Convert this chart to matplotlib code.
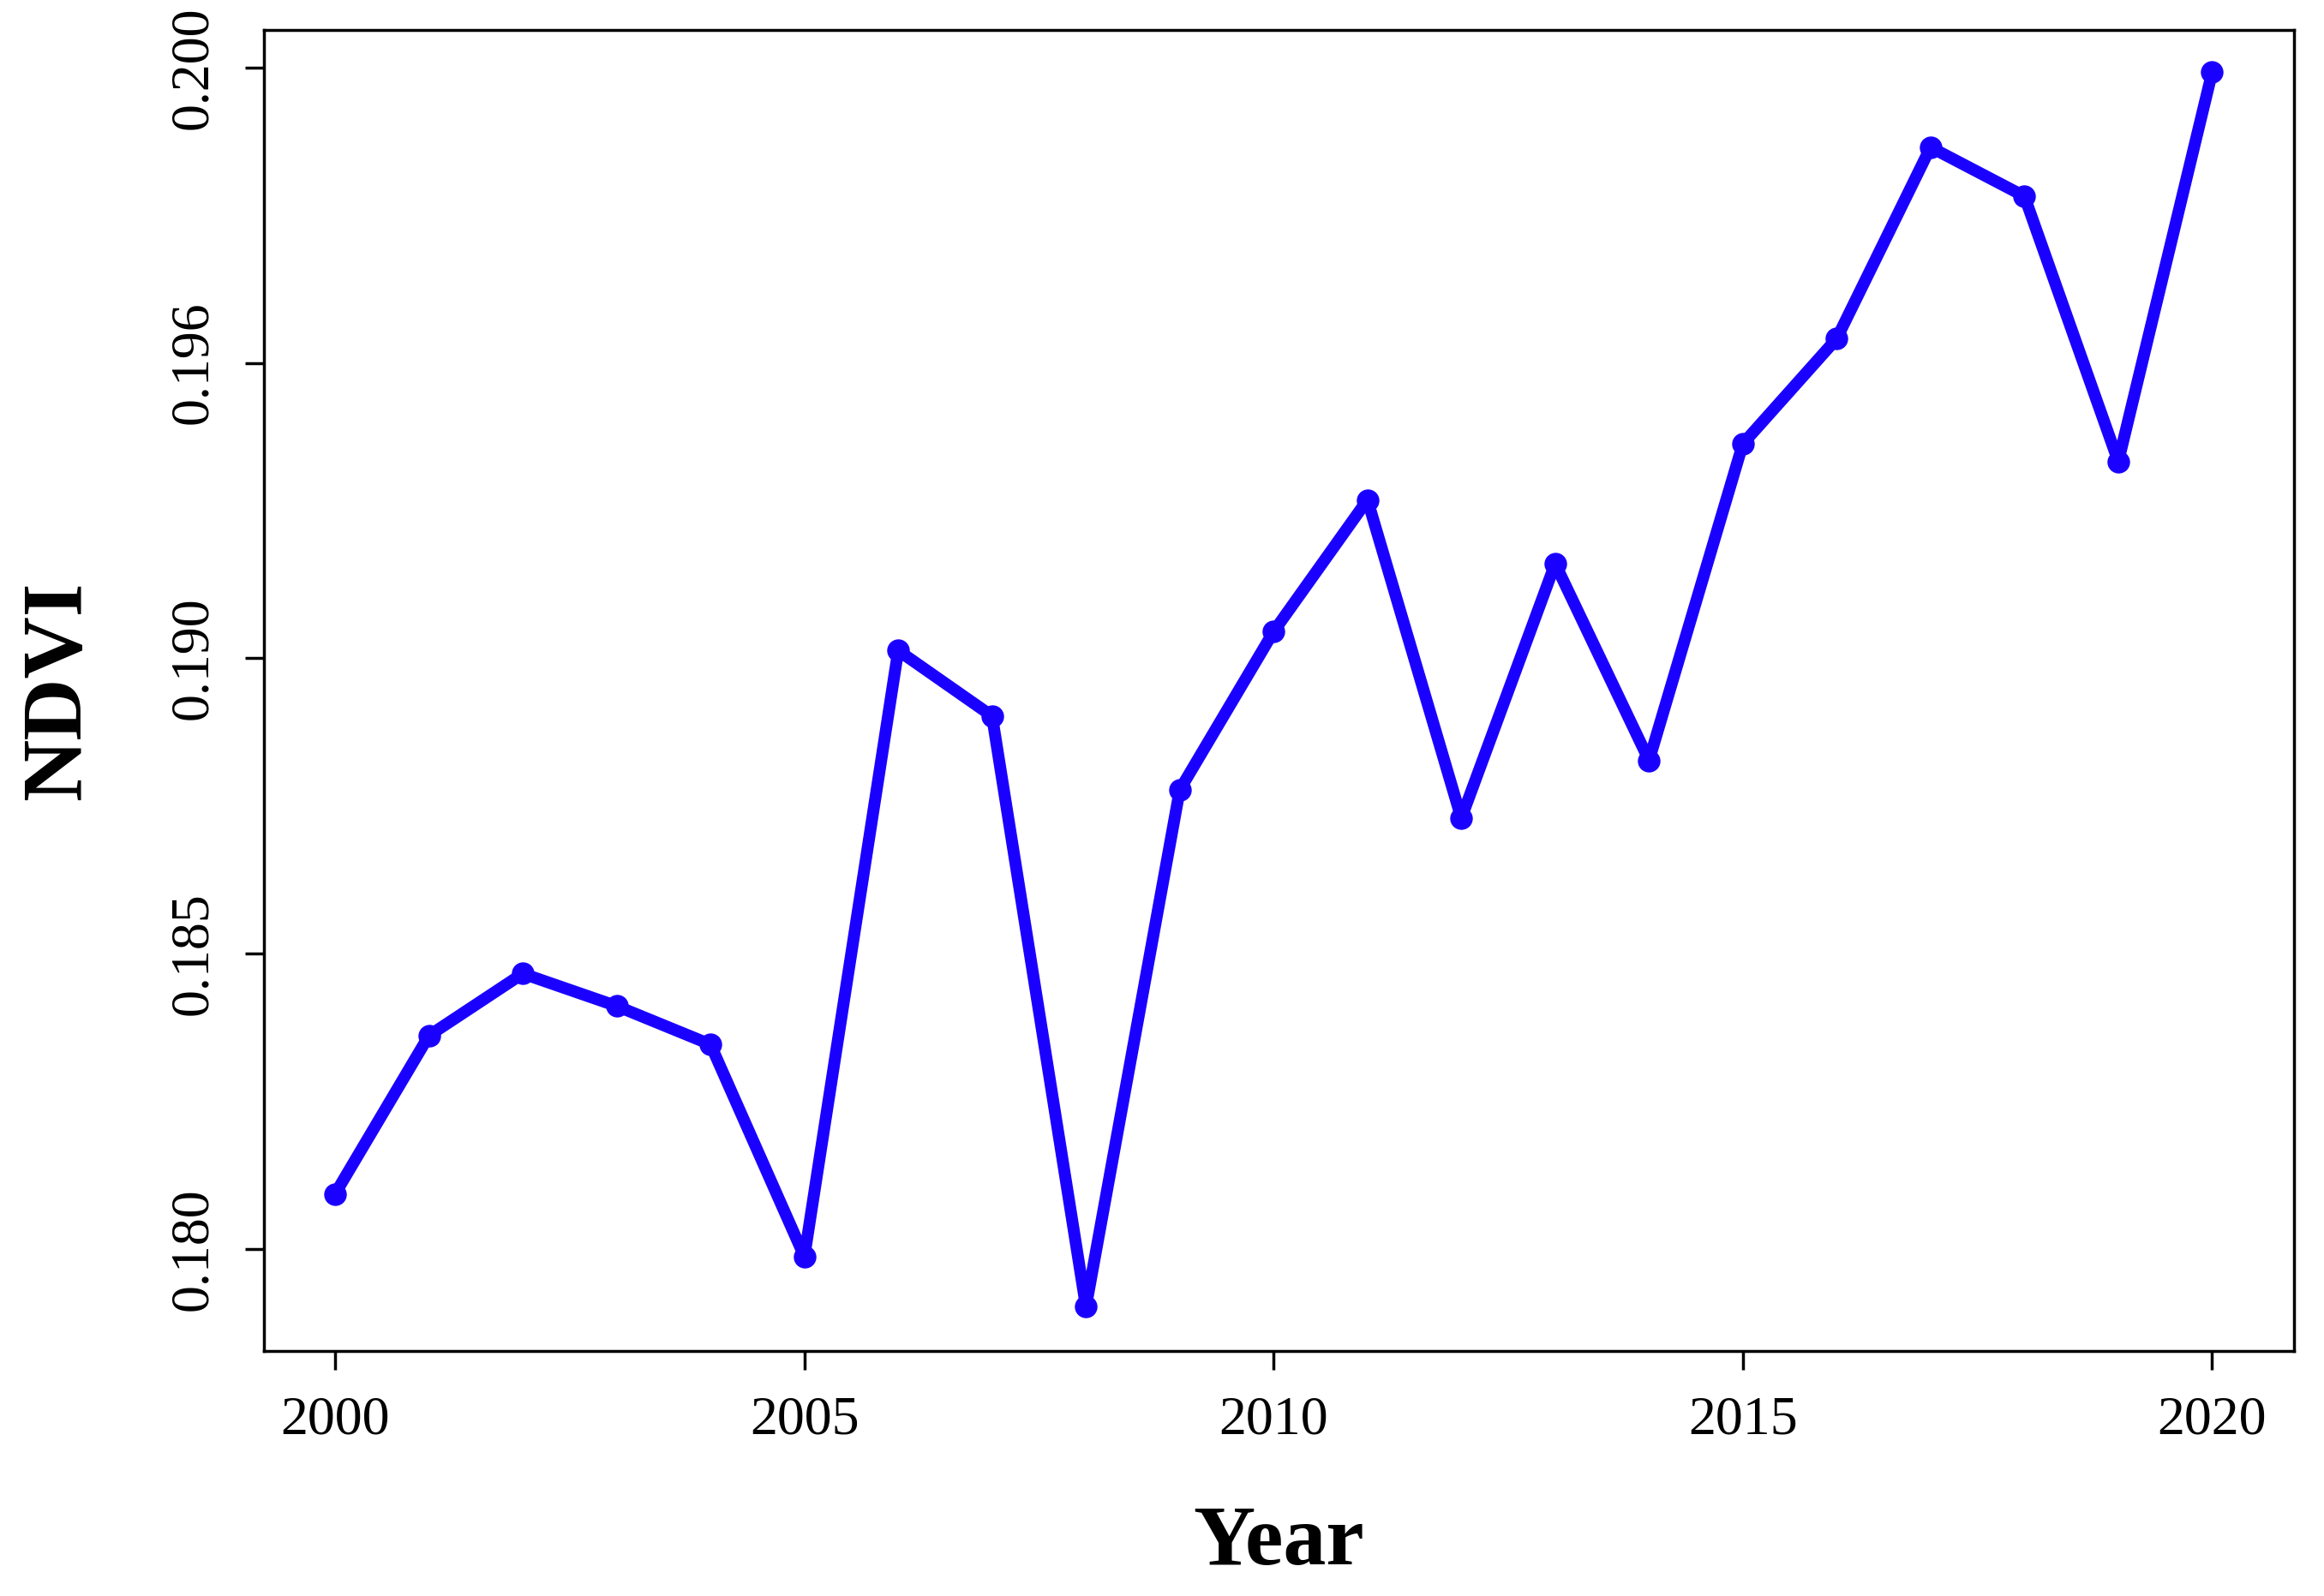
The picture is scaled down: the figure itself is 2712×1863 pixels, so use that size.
import matplotlib
matplotlib.use("Agg")
import matplotlib.pyplot as plt

years = list(range(2000, 2021))
ndvi = [0.18093, 0.18361, 0.18466, 0.18411, 0.18346, 0.17987, 0.19013, 0.18902,
        0.17902, 0.18777, 0.19045, 0.19268, 0.18729, 0.19160, 0.18827, 0.19363,
        0.19541, 0.19865, 0.19782, 0.19333, 0.19992]
yticks = [0.180, 0.185, 0.190, 0.195, 0.200]
yticklabels = ["0.180", "0.185", "0.190", "0.196", "0.200"]
xticks = [2000, 2005, 2010, 2015, 2020]

plt.rcParams['font.family'] = ['Liberation Serif', 'DejaVu Serif']
fig = plt.figure(figsize=(27.12, 18.63), dpi=100)
ax = fig.add_axes([0.1135, 0.1535, 0.8735, 0.8275])
ax.plot(years, ndvi, color='#1a00ff', lw=10, marker='o', ms=18)
ax.set_xlim(1999.24, 2020.87)
ax.set_ylim(0.17827, 0.20063)
ax.set_xticks(xticks)
ax.set_xticklabels([str(x) for x in xticks], fontsize=46)
ax.set_yticks(yticks)
ax.set_yticklabels(yticklabels, fontsize=46, rotation=90, va='center')
ax.tick_params(length=16, width=2.5, pad=22)
for s in ax.spines.values():
    s.set_linewidth(2.5)
ax.set_xlabel("Year", fontsize=72, fontweight='bold', labelpad=50)
ax.set_ylabel("NDVI", fontsize=72, fontweight='bold', labelpad=60)
fig.savefig("out.png", dpi=100)
